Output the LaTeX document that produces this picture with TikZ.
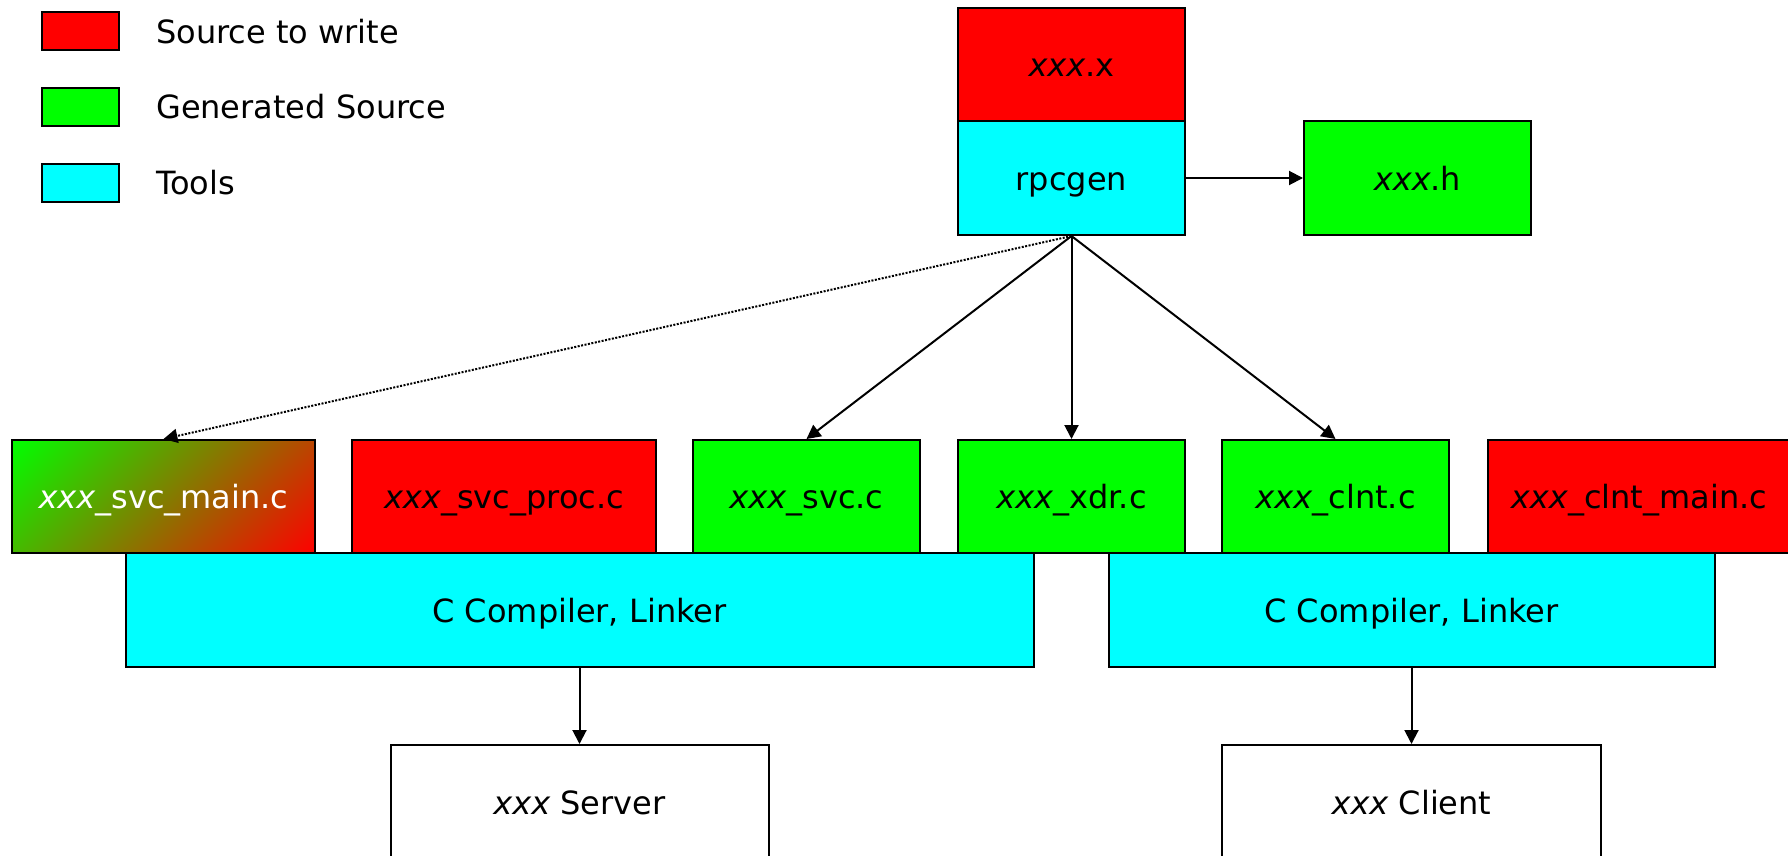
\documentclass[tikz,border=0pt]{standalone}
\usepackage{fontspec}
\setmainfont{DejaVu Sans}
\usetikzlibrary{arrows.meta}

\definecolor{srcred}{RGB}{255,0,0}
\definecolor{gengreen}{RGB}{0,255,0}
\definecolor{toolcyan}{RGB}{0,255,255}

% green in the upper left corner, red in the lower right one
\pgfdeclareverticalshading{mixedsource}{100bp}{color(0bp)=(srcred); color(14.6bp)=(srcred);
  color(85.4bp)=(gengreen); color(100bp)=(gengreen)}

\newcommand{\boxfont}{\fontsize{32}{38}\selectfont}
\newcommand{\stub}{\textit{xxx}}

\begin{document}
\begin{tikzpicture}[x=1pt, y=-1pt,
    box/.style={draw, line width=2pt, minimum width=#1, minimum height=113pt,
                inner sep=0pt, text height=24pt, text depth=0pt, font=\boxfont},
    box/.default=227pt,
    towrite/.style={box=#1, fill=srcred},
    towrite/.default=227pt,
    generated/.style={box=#1, fill=gengreen},
    generated/.default=227pt,
    tool/.style={box=#1, fill=toolcyan},
    tool/.default=227pt,
    result/.style={box=#1, fill=white},
    swatch/.style={draw, line width=2pt, minimum width=77pt, minimum height=38pt, inner sep=0pt},
    legendtext/.style={anchor=west, inner sep=0pt, text height=24pt, text depth=0pt, font=\boxfont},
    flow/.style={line width=2pt, -{Triangle[length=14pt, width=14pt]}},
  ]
    \clip (0,0) rectangle (1788,856);

    % legend
    \node[swatch, fill=srcred]   (lgwrite) at (80.5,31.5)  {};
    \node[swatch, fill=gengreen] (lggen)   at (80.5,107)   {};
    \node[swatch, fill=toolcyan] (lgtool)  at (80.5,182.5) {};
    \node[legendtext] (lgwritetext) at (156,31.5)  {Source to write};
    \node[legendtext] (lggentext)   at (156,107)   {Generated Source};
    \node[legendtext] (lgtooltext)  at (156,182.5) {Tools};

    % rpcgen stage
    \node[towrite] (xfile)  at (1071.5,64.5) {\stub.x};
    \node[tool, minimum height=114pt] (rpcgen) at (1071.5,178) {rpcgen};
    \node[generated] (hfile) at (1417.5,178) {\stub.h};

    % sources
    \node[box=303pt, shade, shading=mixedsource, shading angle=45, text=white]
      (svcmain) at (163.5,496.5) {\stub\_svc\_main.c};
    \node[towrite=304pt] (svcproc) at (504,496.5) {\stub\_svc\_proc.c};
    \node[generated] (svcfile)  at (806.5,496.5)  {\stub\_svc.c};
    \node[generated] (xdrfile)  at (1071.5,496.5) {\stub\_xdr.c};
    \node[generated] (clntfile) at (1335.5,496.5) {\stub\_clnt.c};
    \node[towrite=303pt] (clntmain) at (1639,496.5) {\stub\_clnt\_main.c};

    % compilers
    \node[tool=908pt, minimum height=114pt] (ccserver) at (579.5,610)  {C Compiler, Linker};
    \node[tool=606pt, minimum height=114pt] (ccclient) at (1411.5,610) {C Compiler, Linker};

    % programs
    \node[result=378pt, minimum height=114pt] (server) at (579.5,802)  {\stub{} Server};
    \node[result=379pt, minimum height=114pt] (client) at (1411.5,802) {\stub{} Client};

    % arrows
    \draw[flow] (rpcgen.east) -- (hfile.west);
    \draw[flow, dash pattern=on 2pt off 1.5pt] (rpcgen.south) -- (svcmain.north);
    \draw[flow] (rpcgen.south) -- (svcfile.north);
    \draw[flow] (rpcgen.south) -- (xdrfile.north);
    \draw[flow] (rpcgen.south) -- (clntfile.north);
    \draw[flow] (ccserver.south) -- (server.north);
    \draw[flow] (ccclient.south) -- (client.north);
\end{tikzpicture}
\end{document}
